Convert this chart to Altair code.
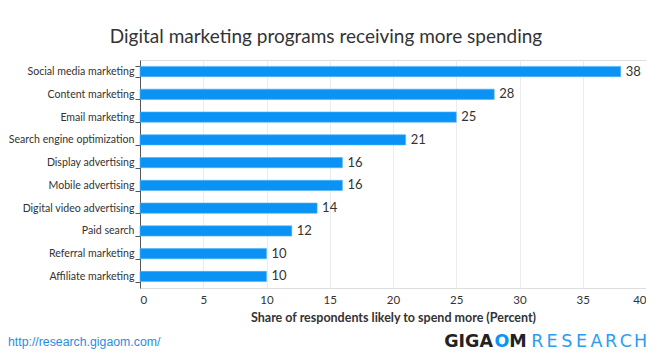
import altair as alt
import pandas as pd

categories = ["Social media marketing", "Content marketing", "Email marketing",
              "Search engine optimization", "Display advertising", "Mobile advertising",
              "Digital video advertising", "Paid search", "Referral marketing",
              "Affiliate marketing"]
values = [38, 28, 25, 21, 16, 16, 14, 12, 10, 10]
x_ticks = [0, 5, 10, 15, 20, 25, 30, 35, 40]

df = pd.DataFrame({"program": categories, "share": values})

FONT = "Lato"
W, H = 506, 228
PL = 132

base = alt.Chart(df).encode(
    y=alt.Y("program:N", sort=categories, title=None,
            scale=alt.Scale(paddingInner=0.55, paddingOuter=0.28),
            axis=alt.Axis(tickBand="extent", tickSize=5, tickColor="#555",
                          domainColor="#555", labelFontSize=10.6, labelColor="#333",
                          labelFont=FONT, labelPadding=1, grid=False)),
)

bars = base.mark_bar(color="#0a93f5", stroke="#4db3f8", strokeWidth=0.6).encode(
    x=alt.X("share:Q", title="Share of respondents likely to spend more (Percent)",
            scale=alt.Scale(domain=[0, 40], nice=False),
            axis=alt.Axis(values=x_ticks, grid=True, gridColor="#ececec", domain=False,
                          ticks=False, labelFontSize=11.5, labelColor="#333",
                          labelFont=FONT, labelPadding=6, titleFont=FONT,
                          titleFontSize=12.5, titleFontWeight="bold", titleColor="#333",
                          titlePadding=6)),
)

labels = base.mark_text(align="left", baseline="middle", dx=5, fontSize=13,
                        font=FONT, color="#333").encode(
    x="share:Q", text="share:Q")

footer_df = pd.DataFrame({"t": ["http://research.gigaom.com/"]})
url = alt.Chart(footer_df).mark_text(align="left", baseline="alphabetic", fontSize=12.3,
                                     font="Liberation Sans", color="#1f8ee6").encode(
    x=alt.value(-PL), y=alt.value(286), text="t:N")

# logo pieces: GIGA (dark), O (blue), M (dark)
giga_text = ["GIGA", "O", "M"]
giga_color = ["#222222", "#0a93f5", "#222222"]
giga_x = [493, 502, 518]           # page x positions (right edge, centre, centre)
giga_align = ["right", "center", "center"]
research_letters = list("RESEARCH")

logo_rows = []
for t, c, xp, a in zip(giga_text, giga_color, giga_x, giga_align):
    logo_rows.append({"t": t, "c": c, "xpos": xp - 8 - PL, "a": a, "w": "bold"})
step = (648 - 530) / len(research_letters)
for i, ch in enumerate(research_letters):
    logo_rows.append({"t": ch, "c": "#2a9df4", "xpos": 530 + step * (i + 0.5) - 8 - PL,
                      "a": "center", "w": "normal"})
logo_df = pd.DataFrame(logo_rows)

logo_layers = []
for (a, w), sub in logo_df.groupby(["a", "w"]):
    logo_layers.append(
        alt.Chart(sub).mark_text(align=a, baseline="alphabetic", fontSize=17.5,
                                 font="DejaVu Sans", fontWeight=w).encode(
            x=alt.X("xpos:Q", scale=None), y=alt.value(287), text="t:N",
            color=alt.Color("c:N", scale=None))
    )

chart = alt.layer(bars, labels, url, *logo_layers).properties(
    width=W, height=H,
    title=alt.TitleParams("Digital marketing programs receiving more spending",
                          font=FONT, fontSize=19, fontWeight="normal", color="#333",
                          anchor="middle", frame="group", dx=-67, offset=8),
    autosize=alt.AutoSizeParams(type="none"),
    padding={"left": PL, "top": 52, "right": 0, "bottom": 63},
).configure_view(stroke=None).configure(background="white")

chart.save("out.html", embed_options={"renderer": "svg", "actions": False})
